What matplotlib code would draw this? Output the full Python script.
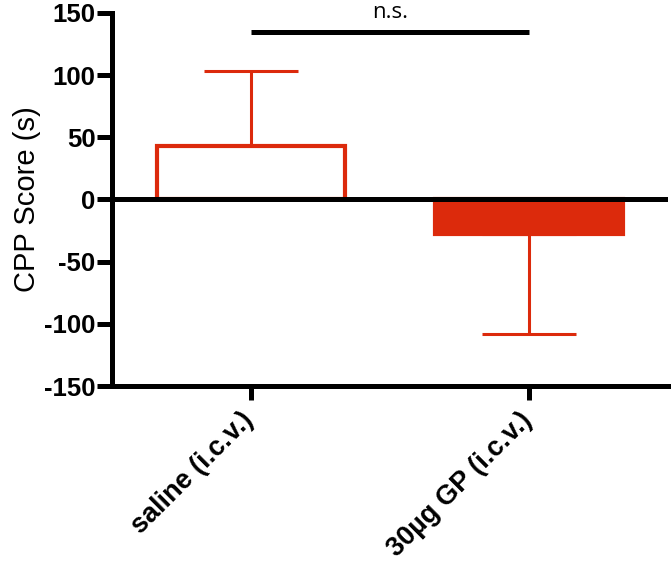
import numpy as np
import matplotlib.pyplot as plt

plt.rcParams['font.family'] = ['Liberation Sans', 'DejaVu Sans']
plt.rcParams['axes.unicode_minus'] = False

# CPP scores (mean and SEM, seconds)
groups = ["saline (i.c.v.)", "30\u00b5g GP (i.c.v.)"]
means = [43, -28]
sems = [60, 80]
fills = ["white", "#dc2a0c"]
red = "#dc2a0c"
ns_height = 135

fig = plt.figure(figsize=(6.71, 5.64), dpi=100)
ax = fig.add_axes([0.1669, 0.3156, 0.8286, 0.6614])

x = np.arange(len(groups))
ax.bar(x, means, width=0.675, color=fills, edgecolor=red, linewidth=3, zorder=2)

# one-sided error bars, pointing away from zero
lower = [s if m < 0 else 0 for m, s in zip(means, sems)]
upper = [s if m >= 0 else 0 for m, s in zip(means, sems)]
ax.errorbar(x, means, yerr=[lower, upper], fmt='none', ecolor=red,
            elinewidth=2.2, capsize=34, capthick=2.2, zorder=1)

ax.axhline(0, color='black', linewidth=3.6, zorder=3)

# significance bar
ax.plot([x[0], x[1]], [ns_height, ns_height], color='black', linewidth=3.6,
        solid_capstyle='butt', clip_on=False)
ax.text((x[0] + x[1]) / 2, 146, "n.s.", ha='center', va='baseline',
        fontsize=16, family=['Open Sans', 'DejaVu Sans'])

ax.set_xlim(-0.5, 1.5)
ax.set_ylim(-150, 150)
ax.set_yticks(np.arange(-150, 151, 50))
ax.set_xticks(x)
ax.set_xticklabels([])
# rotated category labels, placed by hand just under the ticks
for xi, g in zip(x, groups):
    ax.annotate(g, xy=(xi, 0), xycoords=ax.get_xaxis_transform(),
                xytext=(-7.5, -15), textcoords='offset points',
                rotation=45, ha='right', va='top', rotation_mode='anchor',
                fontweight='bold', fontsize=19.5)
for lab in ax.get_yticklabels():
    lab.set_fontweight('bold')
    lab.set_fontsize(18.5)
ax.set_ylabel("CPP Score (s)", fontsize=21, labelpad=2)

for side in ['top', 'right']:
    ax.spines[side].set_visible(False)
for side in ['left', 'bottom']:
    ax.spines[side].set_linewidth(3.6)
ax.tick_params(axis='y', length=11, width=3.6, pad=1)
ax.tick_params(axis='x', length=10, width=3.6, pad=4)

fig.savefig("out.png", dpi=100)
